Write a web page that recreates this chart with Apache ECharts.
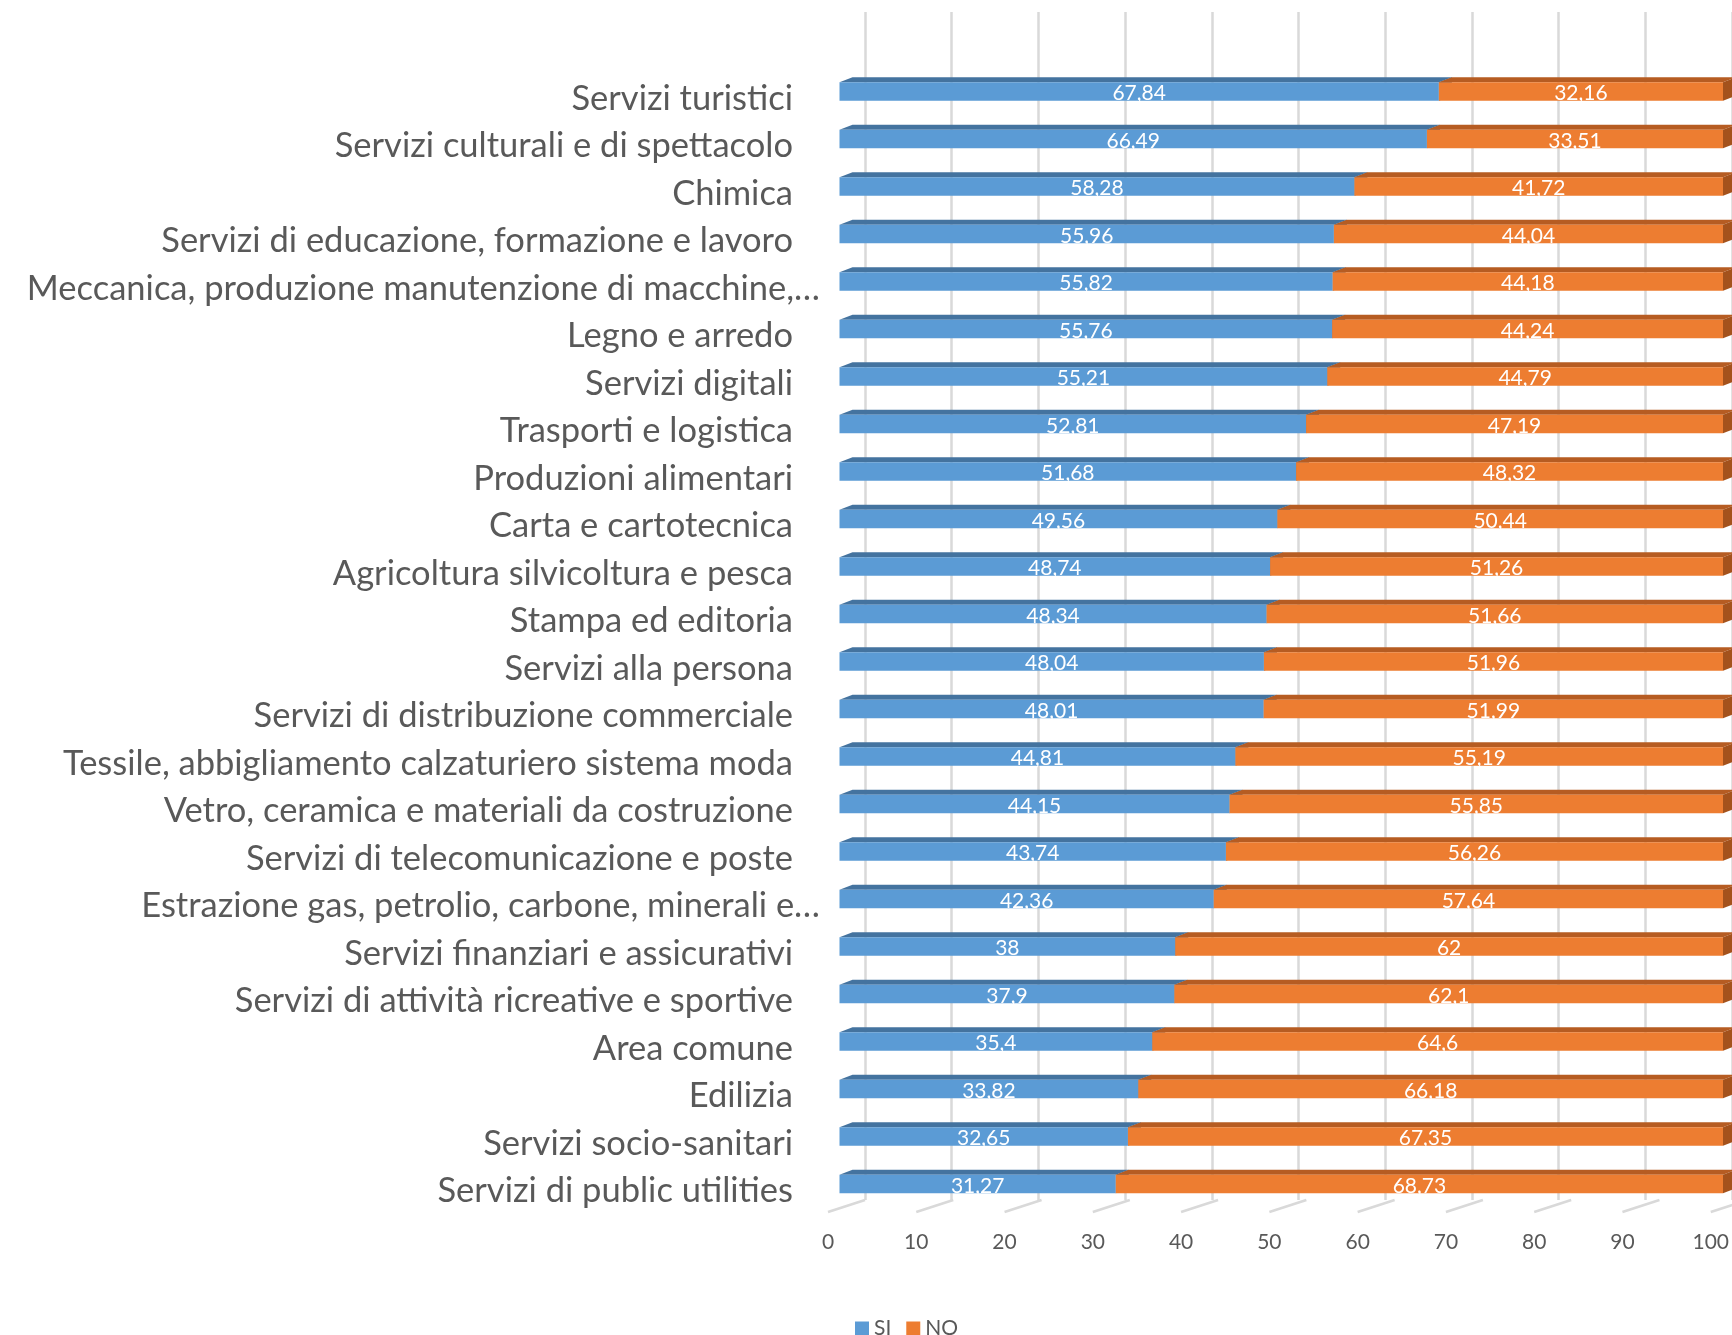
<!DOCTYPE html>
<html>
<head>
<meta charset="utf-8">
<script src="https://cdn.jsdelivr.net/npm/echarts@6/dist/echarts.min.js"></script>
<style>
html,body{margin:0;padding:0;background:#fff;}
#chart{width:1732px;height:1335px;}
</style>
</head>
<body>
<div id="chart"></div>
<script>
const categories = [
  'Servizi turistici',
  'Servizi culturali e di spettacolo',
  'Chimica',
  'Servizi di educazione, formazione e lavoro',
  'Meccanica, produzione manutenzione di macchine,…',
  'Legno e arredo',
  'Servizi digitali',
  'Trasporti e logistica',
  'Produzioni alimentari',
  'Carta e cartotecnica',
  'Agricoltura silvicoltura e pesca',
  'Stampa ed editoria',
  'Servizi alla persona',
  'Servizi di distribuzione commerciale',
  'Tessile, abbigliamento calzaturiero sistema moda',
  'Vetro, ceramica e materiali da costruzione',
  'Servizi di telecomunicazione e poste',
  'Estrazione gas, petrolio, carbone, minerali e…',
  'Servizi finanziari e assicurativi',
  'Servizi di attività ricreative e sportive',
  'Area comune',
  'Edilizia',
  'Servizi socio-sanitari',
  'Servizi di public utilities'
];
const siValues = [67.84, 66.49, 58.28, 55.96, 55.82, 55.76, 55.21, 52.81, 51.68, 49.56, 48.74, 48.34, 48.04, 48.01, 44.81, 44.15, 43.74, 42.36, 38, 37.9, 35.4, 33.82, 32.65, 31.27];
const noValues = [32.16, 33.51, 41.72, 44.04, 44.18, 44.24, 44.79, 47.19, 48.32, 50.44, 51.26, 51.66, 51.96, 51.99, 55.19, 55.85, 56.26, 57.64, 62, 62.1, 64.6, 66.18, 67.35, 68.73];
const xTicks = [0, 10, 20, 30, 40, 50, 60, 70, 80, 90, 100];

const FONT = 'Lato';
const fmt = v => String(v).replace('.', ',');

function makeRender(front, top, side) {
  return function (params, api) {
    const v = api.value(0), cat = api.value(1), base = api.value(2);
    const p0 = api.coord([base, cat]);
    const p1 = api.coord([base + v, cat]);
    const h = 18.6, dx = 13, dy = 5;
    const yc = p0[1];
    const yt = yc - h / 2, yb = yc + h / 2;
    const x0 = p0[0], x1 = p1[0];
    return {
      type: 'group',
      children: [
        { type: 'polygon', shape: { points: [[x0, yt], [x1, yt], [x1 + dx, yt - dy], [x0 + dx, yt - dy]] }, style: { fill: top } },
        { type: 'polygon', shape: { points: [[x1, yt], [x1 + dx, yt - dy], [x1 + dx, yb - dy], [x1, yb]] }, style: { fill: side } },
        { type: 'rect', shape: { x: x0, y: yt, width: x1 - x0, height: h }, style: { fill: front } },
        { type: 'text', style: { text: fmt(v), x: (x0 + x1) / 2, y: yc + 2, align: 'center', verticalAlign: 'middle', fill: '#ffffff', fontSize: 21, fontFamily: FONT } }
      ]
    };
  };
}

const siData = siValues.map((v, i) => [v, i, 0]);
const noData = noValues.map((v, i) => [v, i, siValues[i]]);
const floorData = xTicks.map(k => [k, 0]);
const longLabels = new Set(['Meccanica, produzione manutenzione di macchine,…', 'Estrazione gas, petrolio, carbone, minerali e…']);

const chart = echarts.init(document.getElementById('chart'));
chart.setOption({
  backgroundColor: '#ffffff',
  animation: false,
  grid: [
    { left: 839.5, width: 883.5, top: 67.75, height: 1140 },
    { left: 865, width: 884, top: 12, height: 1188 },
    { left: 828, width: 884, top: 1200, height: 12 }
  ],
  xAxis: [
    { gridIndex: 0, type: 'value', min: 0, max: 100, interval: 10, axisLabel: { show: false }, splitLine: { show: false }, axisLine: { show: false }, axisTick: { show: false } },
    { gridIndex: 1, type: 'value', min: 0, max: 100, interval: 10, axisLabel: { show: false }, splitLine: { show: true, lineStyle: { color: '#D9D9D9', width: 2.5 } }, axisLine: { show: false }, axisTick: { show: false } },
    { gridIndex: 2, type: 'value', min: 0, max: 100, interval: 10, splitLine: { show: false }, axisLine: { show: false }, axisTick: { show: false },
      axisLabel: { show: true, margin: 20, color: '#595959', fontSize: 21, fontFamily: FONT } }
  ],
  yAxis: [
    { gridIndex: 0, type: 'category', data: categories, inverse: true, axisLine: { show: false }, axisTick: { show: false }, splitLine: { show: false },
      axisLabel: { margin: 19.5, color: '#595959', fontSize: 34.5, fontFamily: FONT,
        formatter: c => longLabels.has(c) ? '{l|' + c + '}' : '{n|' + c + '}',
        rich: {
          n: { color: '#595959', fontSize: 34.5, fontFamily: FONT, padding: [14, 27, 0, 0] },
          l: { color: '#595959', fontSize: 34.5, fontFamily: FONT, padding: [14, 0, 0, 0] }
        } } },
    { gridIndex: 1, type: 'value', min: 0, max: 1, show: false },
    { gridIndex: 2, type: 'value', min: 0, max: 1, show: false }
  ],
  legend: {
    data: ['SI', 'NO'], left: 855, top: 1318, icon: 'rect', itemWidth: 14, itemHeight: 14, itemGap: 15, padding: 0,
    textStyle: { color: '#595959', fontSize: 21, fontFamily: FONT }
  },
  series: [
    { type: 'custom', name: 'floor', xAxisIndex: 2, yAxisIndex: 2, data: floorData, silent: true, clip: false,
      renderItem: (params, api) => {
        const p = api.coord([api.value(0), api.value(1)]);
        return { type: 'line', shape: { x1: p[0], y1: p[1], x2: p[0] + 37, y2: p[1] - 12 }, style: { stroke: '#D9D9D9', lineWidth: 2.5 } };
      }, encode: { x: 0, y: 1 } },
    { type: 'custom', name: 'SI', xAxisIndex: 0, yAxisIndex: 0, data: siData, itemStyle: { color: '#5B9BD5' }, clip: false,
      renderItem: makeRender('#5B9BD5', '#44739F', '#3F6D99'), encode: { x: 0, y: 1 } },
    { type: 'custom', name: 'NO', xAxisIndex: 0, yAxisIndex: 0, data: noData, itemStyle: { color: '#ED7D31' }, clip: false,
      renderItem: makeRender('#ED7D31', '#B65C22', '#A4521C'), encode: { x: 0, y: 1 } }
  ]
});
</script>
</body>
</html>
